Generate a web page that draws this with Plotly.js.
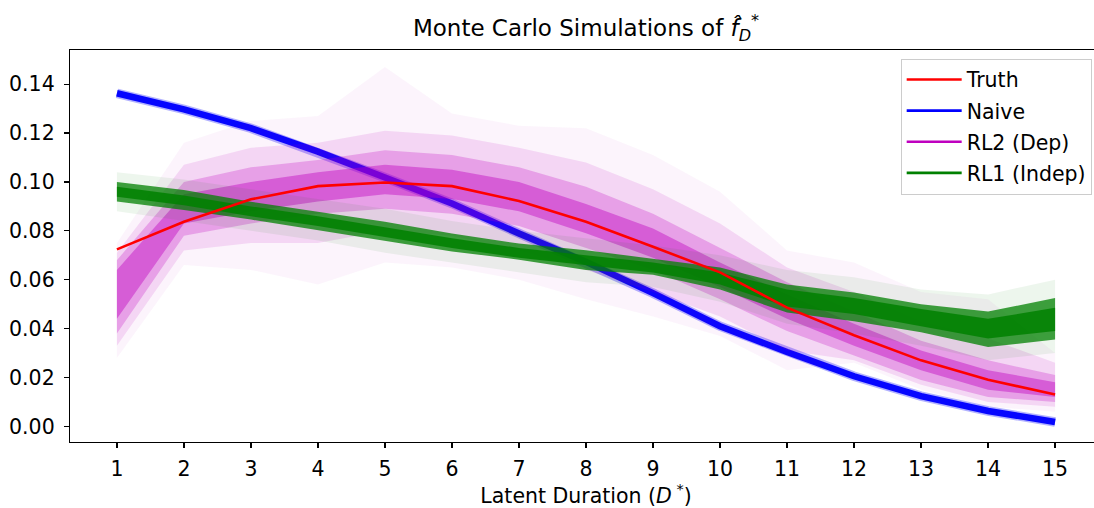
<!DOCTYPE html>
<html>
<head>
<meta charset="utf-8">
<script src="https://cdn.plot.ly/plotly-3.0.1.min.js"></script>
<style>
html, body { margin: 0; padding: 0; overflow: hidden; background: #fff; }
#chart { width: 1110px; height: 508px; }
</style>
</head>
<body>
<div id="chart"></div>
<script>
// Latent duration categories
const durations = [1, 2, 3, 4, 5, 6, 7, 8, 9, 10, 11, 12, 13, 14, 15];

// Truth (red)
const truth = [0.0724, 0.0837, 0.0929, 0.0983, 0.0998, 0.0983, 0.0922, 0.0837, 0.0735, 0.0630, 0.0486, 0.0373, 0.0270, 0.0191, 0.0130];

// Naive simulations (blue) – tight band centre
const naive = [0.1363, 0.1297, 0.1220, 0.1124, 0.1018, 0.0912, 0.0789, 0.0673, 0.0545, 0.0410, 0.0304, 0.0205, 0.0124, 0.0063, 0.0018];

// RL2 (Dep) simulations (magenta) – faint envelope, mid band, dense band, core
const rl2FaintUp = [0.075, 0.116, 0.125, 0.127, 0.147, 0.128, 0.123, 0.122, 0.111, 0.096, 0.072, 0.067, 0.055, 0.052, 0.030];
const rl2FaintLo = [0.028, 0.066, 0.064, 0.058, 0.067, 0.065, 0.060, 0.052, 0.045, 0.037, 0.023, 0.026, 0.015, 0.008, 0.006];
const rl2MidUp   = [0.071, 0.107, 0.114, 0.116, 0.121, 0.119, 0.114, 0.108, 0.097, 0.083, 0.065, 0.055, 0.043, 0.036, 0.026];
const rl2MidLo   = [0.033, 0.072, 0.075, 0.075, 0.080, 0.078, 0.072, 0.064, 0.055, 0.045, 0.031, 0.027, 0.017, 0.010, 0.008];
const rl2DenseUp = [0.068, 0.100, 0.106, 0.109, 0.113, 0.111, 0.106, 0.098, 0.087, 0.073, 0.059, 0.047, 0.035, 0.027, 0.021];
const rl2DenseLo = [0.038, 0.078, 0.083, 0.087, 0.089, 0.087, 0.082, 0.073, 0.064, 0.052, 0.039, 0.029, 0.019, 0.012, 0.010];
const rl2CoreUp  = [0.064, 0.095, 0.100, 0.104, 0.107, 0.105, 0.100, 0.091, 0.081, 0.067, 0.054, 0.042, 0.031, 0.023, 0.018];
const rl2CoreLo  = [0.044, 0.083, 0.088, 0.092, 0.095, 0.093, 0.088, 0.079, 0.069, 0.057, 0.044, 0.033, 0.023, 0.015, 0.012];

// RL1 (Indep) simulations (green) – faint envelope, dense band, core
const rl1FaintUp = [0.104, 0.101, 0.097, 0.093, 0.089, 0.084, 0.080, 0.077, 0.074, 0.070, 0.064, 0.061, 0.056, 0.054, 0.060];
const rl1FaintLo = [0.088, 0.084, 0.080, 0.076, 0.071, 0.067, 0.063, 0.059, 0.057, 0.051, 0.042, 0.038, 0.033, 0.027, 0.030];
const rl1DenseUp = [0.1000, 0.0967, 0.0919, 0.0878, 0.0837, 0.0789, 0.0748, 0.0721, 0.0687, 0.0650, 0.0580, 0.0548, 0.0500, 0.0470, 0.0525];
const rl1DenseLo = [0.0920, 0.0885, 0.0846, 0.0803, 0.0757, 0.0716, 0.0682, 0.0640, 0.0620, 0.0560, 0.0466, 0.0430, 0.0385, 0.0325, 0.0355];
const rl1CoreUp  = [0.0980, 0.0945, 0.0900, 0.0860, 0.0815, 0.0770, 0.0730, 0.0700, 0.0670, 0.0630, 0.0560, 0.0525, 0.0480, 0.0440, 0.0485];
const rl1CoreLo  = [0.0940, 0.0905, 0.0860, 0.0820, 0.0775, 0.0730, 0.0690, 0.0660, 0.0630, 0.0580, 0.0490, 0.0460, 0.0410, 0.0360, 0.0390];

// Legend labels
const legendNames = ['Truth', 'Naive', 'RL2 (Dep)', 'RL1 (Indep)'];
const legendColors = ['#ff0000', '#0000ff', '#bf00bf', '#008000'];

function band(lo, up, color) {
  return [
    { x: durations, y: lo, mode: 'lines', line: { width: 0, color: color }, showlegend: false, hoverinfo: 'skip' },
    { x: durations, y: up, mode: 'lines', line: { width: 0, color: color }, fill: 'tonexty', fillcolor: color, showlegend: false, hoverinfo: 'skip' }
  ];
}

const traces = [];
// Naive band (drawn first)
traces.push({ x: durations, y: naive, mode: 'lines', line: { color: 'rgba(0,0,255,0.3)', width: 9.5 }, showlegend: false, hoverinfo: 'skip' });
traces.push({ x: durations, y: naive, mode: 'lines', line: { color: 'rgba(0,0,255,0.97)', width: 6.5 }, showlegend: false, hoverinfo: 'skip' });
// RL2 magenta
traces.push(...band(rl2FaintLo, rl2FaintUp, 'rgba(191,0,191,0.045)'));
traces.push(...band(rl2MidLo, rl2MidUp, 'rgba(191,0,191,0.12)'));
traces.push(...band(rl2DenseLo, rl2DenseUp, 'rgba(191,0,191,0.25)'));
traces.push(...band(rl2CoreLo, rl2CoreUp, 'rgba(191,0,191,0.42)'));
// RL1 green
traces.push(...band(rl1FaintLo, rl1FaintUp, 'rgba(0,128,0,0.07)'));
traces.push(...band(rl1DenseLo, rl1DenseUp, 'rgba(0,128,0,0.75)'));
traces.push(...band(rl1CoreLo, rl1CoreUp, 'rgba(0,128,0,0.85)'));
// Truth on top
traces.push({ x: durations, y: truth, mode: 'lines', line: { color: '#ff0000', width: 2.6 }, showlegend: false, hoverinfo: 'skip' });

// Legend entries
legendNames.forEach((n, i) => {
  traces.push({ x: [null], y: [null], mode: 'lines', name: n, legendgroup: 'g' + i,
    line: { color: legendColors[i], width: 2.6 }, showlegend: true });
});

const font = 'DejaVu Sans, sans-serif';
const layout = {
  width: 1110, height: 508,
  margin: { l: 70, r: 8, t: 50, b: 66.3 },
  paper_bgcolor: '#ffffff', plot_bgcolor: '#ffffff',
  font: { family: font, size: 20.5, color: '#000' },
  title: {
    text: 'Monte Carlo Simulations of <i>f̂</i><sub><i>D</i></sub><sup>*</sup>',
    font: { family: font, size: 23, color: '#000' },
    xref: 'paper', x: 0.5, xanchor: 'center',
    yref: 'container', y: 0.945, yanchor: 'middle'
  },
  xaxis: {
    range: [0.3, 15.7],
    tickmode: 'array', tickvals: durations, ticktext: durations.map(String),
    ticks: 'outside', ticklen: 5, tickwidth: 1.2, tickcolor: '#000',
    showline: true, linecolor: '#000', linewidth: 1.2, mirror: true,
    showgrid: false, zeroline: false,
    tickfont: { family: font, size: 20.5, color: '#000' },
    ticklabelstandoff: 3,
    title: { text: 'Latent Duration (<i>D</i><sup> *</sup>)', font: { family: font, size: 20.5, color: '#000' } }
  },
  yaxis: {
    range: [-0.0064, 0.154],
    tickmode: 'array', tickvals: [0, 0.02, 0.04, 0.06, 0.08, 0.10, 0.12, 0.14],
    ticktext: ['0.00', '0.02', '0.04', '0.06', '0.08', '0.10', '0.12', '0.14'],
    ticks: 'outside', ticklen: 5, tickwidth: 1.2, tickcolor: '#000',
    showline: true, linecolor: '#000', linewidth: 1.2, mirror: true,
    showgrid: false, zeroline: false,
    tickfont: { family: font, size: 20.5, color: '#000' },
    ticklabelstandoff: 5
  },
  legend: {
    x: 0.990, y: 0.978, xanchor: 'right', yanchor: 'top',
    bgcolor: 'rgba(255,255,255,0.85)', bordercolor: '#cccccc', borderwidth: 1,
    font: { family: font, size: 20.5, color: '#000' },
    tracegroupgap: 1.5, itemwidth: 55, traceorder: 'grouped'
  },
  showlegend: true
};

Plotly.newPlot('chart', traces, layout, { displayModeBar: false, staticPlot: true });
</script>
</body>
</html>
